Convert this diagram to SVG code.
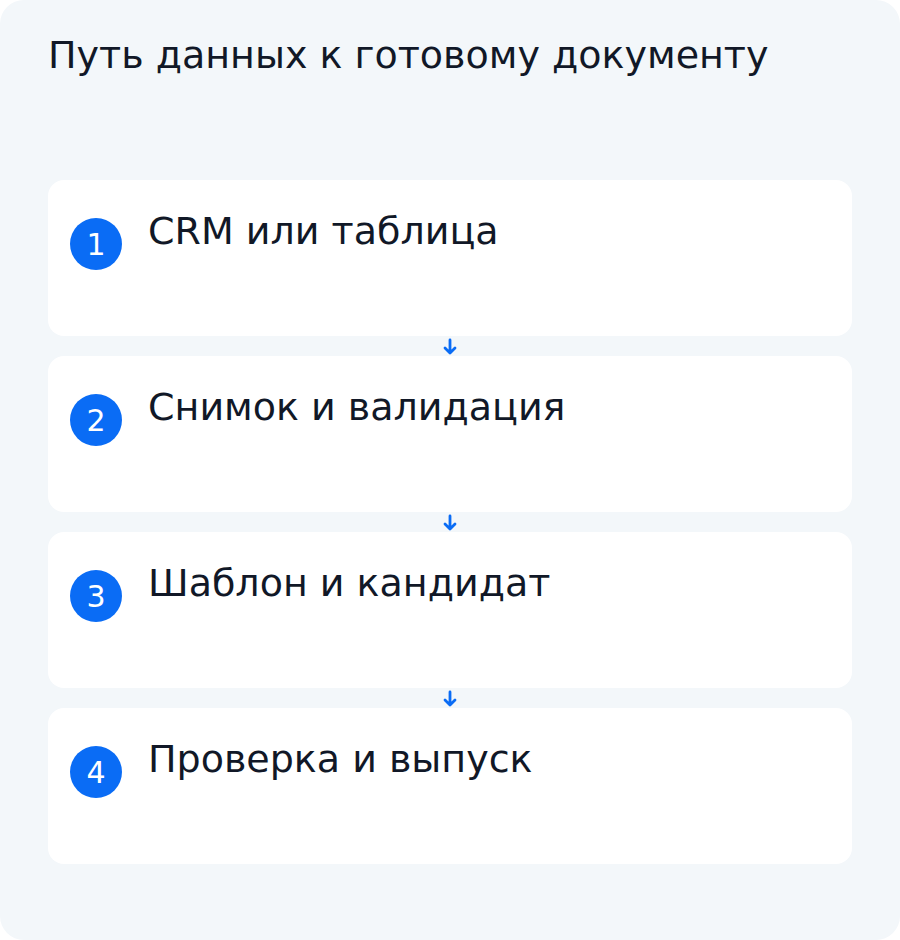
<svg xmlns="http://www.w3.org/2000/svg" width="900" height="940" viewBox="0 0 900 940">
<defs>
<style>
.card{fill:#ffffff}
.badge{fill:#0a6cf5}
.num{font-family:"DejaVu Sans",sans-serif;font-size:30px;fill:#ffffff;text-anchor:middle}
.lbl{font-family:"DejaVu Sans",sans-serif;font-size:38px;fill:#111827}
.title{font-family:"DejaVu Sans",sans-serif;font-size:38px;fill:#111827}
.conn{stroke:#0a6cf5;stroke-width:2.8;fill:none;stroke-linecap:round;stroke-linejoin:round}
</style>
</defs>
<rect x="0" y="0" width="900" height="940" rx="24" fill="#f3f7fa"/>
<text class="title" x="48" y="68">Путь данных к готовому документу</text>
<g id="connectors">
<path class="conn" d="M450 340 V353 M445 348 L450 353 L455 348"/>
<path class="conn" d="M450 516 V529 M445 524 L450 529 L455 524"/>
<path class="conn" d="M450 692 V705 M445 700 L450 705 L455 700"/>
</g>
<g id="node1">
<rect class="card" x="48" y="180" width="804" height="156" rx="16"/>
<circle class="badge" cx="96" cy="244" r="26"/>
<text class="num" x="96" y="255">1</text>
<text class="lbl" x="148" y="244">CRM или таблица</text>
</g>
<g id="node2">
<rect class="card" x="48" y="356" width="804" height="156" rx="16"/>
<circle class="badge" cx="96" cy="420" r="26"/>
<text class="num" x="96" y="431">2</text>
<text class="lbl" x="148" y="420">Снимок и валидация</text>
</g>
<g id="node3">
<rect class="card" x="48" y="532" width="804" height="156" rx="16"/>
<circle class="badge" cx="96" cy="596" r="26"/>
<text class="num" x="96" y="607">3</text>
<text class="lbl" x="148" y="596">Шаблон и кандидат</text>
</g>
<g id="node4">
<rect class="card" x="48" y="708" width="804" height="156" rx="16"/>
<circle class="badge" cx="96" cy="772" r="26"/>
<text class="num" x="96" y="783">4</text>
<text class="lbl" x="148" y="772">Проверка и выпуск</text>
</g>
</svg>
